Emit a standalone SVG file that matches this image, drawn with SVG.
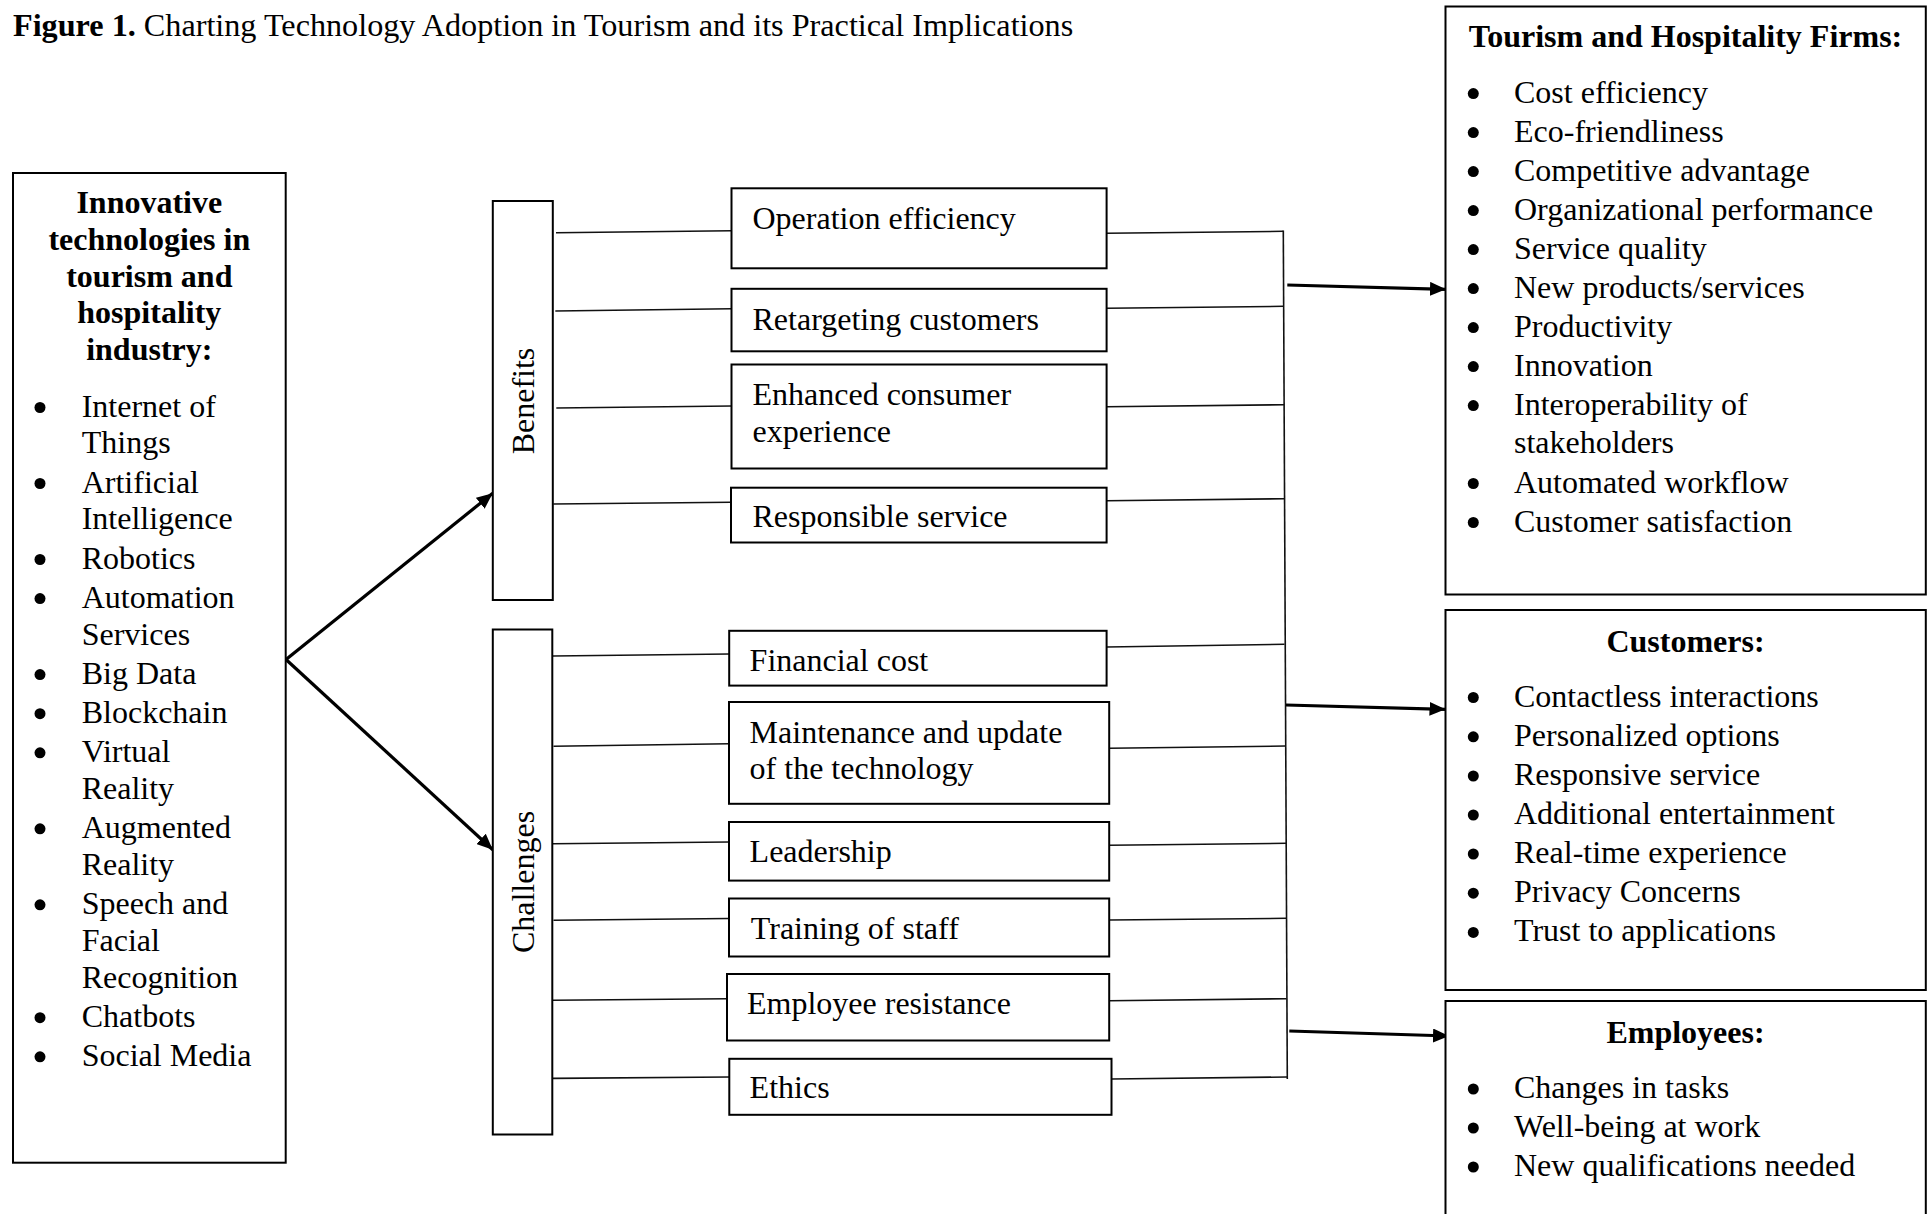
<svg xmlns="http://www.w3.org/2000/svg" width="1930" height="1214" viewBox="0 0 1930 1214">
<style>
  text { font-family: "Liberation Serif", "Times New Roman", serif; font-size: 32px; fill: #000; }
  .b { font-weight: bold; }
  .c { text-anchor: middle; }
  .box { fill: #fff; stroke: #000; stroke-width: 2; }
  .thin { fill: none; stroke: #111; stroke-width: 1.6; }
  .arrow { fill: none; stroke: #000; stroke-width: 3.2; marker-end: url(#ah); }
  .dot { fill: #000; }
</style>
<defs>
  <marker id="ah" markerUnits="userSpaceOnUse" markerWidth="17" markerHeight="14" refX="16" refY="7" orient="auto">
    <path d="M0,0 L16,7 L0,14 z" fill="#000"/>
  </marker>
</defs>
<rect width="1930" height="1214" fill="#fff"/>

<text x="13" y="36" style="font-size:32.2px"><tspan class="b">Figure 1.</tspan> Charting Technology Adoption in Tourism and its Practical Implications</text>

<g id="connectors">
  <path class="arrow" d="M286,659.5 L492.7,493.3"/>
  <path class="arrow" d="M286,659.5 L492.8,849.7"/>
  <path class="thin" d="M556,232.7 L731.5,230.7"/>
  <path class="thin" d="M555.3,311 L731.5,308.7"/>
  <path class="thin" d="M556.3,408 L731.5,406"/>
  <path class="thin" d="M553.3,504 L731,502.3"/>
  <path class="thin" d="M553,656 L729.2,654"/>
  <path class="thin" d="M553.5,746.3 L729,743.8"/>
  <path class="thin" d="M553,843.8 L729,842"/>
  <path class="thin" d="M553.5,920.2 L729,918.5"/>
  <path class="thin" d="M553,1000.2 L727,998.8"/>
  <path class="thin" d="M553,1078.4 L729.3,1077"/>
  <path class="thin" d="M1106.6,233.3 L1283.3,231.3"/>
  <path class="thin" d="M1106.6,308.3 L1283.6,306.3"/>
  <path class="thin" d="M1106.6,406.7 L1284,404.7"/>
  <path class="thin" d="M1106.6,500.7 L1284.3,498.7"/>
  <path class="thin" d="M1106.6,647 L1284.5,644.3"/>
  <path class="thin" d="M1109.2,748.3 L1285.7,746"/>
  <path class="thin" d="M1109.2,845.3 L1286,843.3"/>
  <path class="thin" d="M1109.2,920 L1286.3,918.3"/>
  <path class="thin" d="M1109.2,1000.7 L1286.6,998.7"/>
  <path class="thin" d="M1111.5,1079 L1287.3,1077"/>
  <path class="thin" d="M1283.3,230.5 L1287.3,1079"/>
  <path class="arrow" d="M1287.3,285 L1446,289.3"/>
  <path class="arrow" d="M1286,705 L1445.5,709.3"/>
  <path class="arrow" d="M1289.3,1031 L1449,1036"/>
</g>

<g id="technologies">
  <rect class="box" x="13" y="173" width="272.7" height="989.7"/>
  <text class="b c" x="149.3" y="213.3">Innovative</text>
  <text class="b c" x="149.3" y="250">technologies in</text>
  <text class="b c" x="149.3" y="286.7">tourism and</text>
  <text class="b c" x="149.3" y="323.3">hospitality</text>
  <text class="b c" x="149.3" y="360">industry:</text>
  <circle class="dot" cx="40" cy="407.5" r="5.5"/>
  <text x="81.7" y="416.5">Internet of</text>
  <text x="81.7" y="453.4">Things</text>
  <circle class="dot" cx="40" cy="483.5" r="5.5"/>
  <text x="81.7" y="492.5">Artificial</text>
  <text x="81.7" y="529.4">Intelligence</text>
  <circle class="dot" cx="40" cy="559.5" r="5.5"/>
  <text x="81.7" y="568.5">Robotics</text>
  <circle class="dot" cx="40" cy="598.6" r="5.5"/>
  <text x="81.7" y="607.6">Automation</text>
  <text x="81.7" y="644.5">Services</text>
  <circle class="dot" cx="40" cy="674.6" r="5.5"/>
  <text x="81.7" y="683.6">Big Data</text>
  <circle class="dot" cx="40" cy="713.7" r="5.5"/>
  <text x="81.7" y="722.7">Blockchain</text>
  <circle class="dot" cx="40" cy="752.8" r="5.5"/>
  <text x="81.7" y="761.8">Virtual</text>
  <text x="81.7" y="798.7">Reality</text>
  <circle class="dot" cx="40" cy="828.8" r="5.5"/>
  <text x="81.7" y="837.8">Augmented</text>
  <text x="81.7" y="874.7">Reality</text>
  <circle class="dot" cx="40" cy="904.8" r="5.5"/>
  <text x="81.7" y="913.8">Speech and</text>
  <text x="81.7" y="950.7">Facial</text>
  <text x="81.7" y="987.6">Recognition</text>
  <circle class="dot" cx="40" cy="1017.7" r="5.5"/>
  <text x="81.7" y="1026.7">Chatbots</text>
  <circle class="dot" cx="40" cy="1056.8" r="5.5"/>
  <text x="81.7" y="1065.8">Social Media</text>
</g>

<g id="benefits">
  <rect class="box" x="492.8" y="201" width="60" height="399"/>
  <text class="c" transform="translate(534,401) rotate(-90)">Benefits</text>
</g>
<g id="challenges">
  <rect class="box" x="492.8" y="629.5" width="59.5" height="505"/>
  <text class="c" transform="translate(534,882) rotate(-90)">Challenges</text>
</g>

<g id="operation-efficiency">
  <rect class="box" x="731.5" y="188.3" width="375.1" height="80"/>
  <text x="752.5" y="228.5">Operation efficiency</text>
</g>
<g id="retargeting-customers">
  <rect class="box" x="731.5" y="288.8" width="375.1" height="62.5"/>
  <text x="752.5" y="330">Retargeting customers</text>
</g>
<g id="enhanced-consumer-experience">
  <rect class="box" x="731.5" y="364.5" width="375.1" height="104"/>
  <text x="752.5" y="404.8">Enhanced consumer</text>
  <text x="752.5" y="441.5">experience</text>
</g>
<g id="responsible-service">
  <rect class="box" x="731" y="487.7" width="375.6" height="54.8"/>
  <text x="752.5" y="527">Responsible service</text>
</g>
<g id="financial-cost">
  <rect class="box" x="729.2" y="630.8" width="377.4" height="54.8"/>
  <text x="749.6" y="670.5">Financial cost</text>
</g>
<g id="maintenance">
  <rect class="box" x="729" y="702" width="380.2" height="101.8"/>
  <text x="749.6" y="742.5">Maintenance and update</text>
  <text x="749.6" y="779.3">of the technology</text>
</g>
<g id="leadership">
  <rect class="box" x="729" y="822" width="380.2" height="58.6"/>
  <text x="749.6" y="861.5">Leadership</text>
</g>
<g id="training-of-staff">
  <rect class="box" x="729" y="898.5" width="380.2" height="58"/>
  <text x="750.8" y="938.5">Training of staff</text>
</g>
<g id="employee-resistance">
  <rect class="box" x="727" y="974" width="382.2" height="66.5"/>
  <text x="747" y="1014">Employee resistance</text>
</g>
<g id="ethics">
  <rect class="box" x="729.3" y="1058.8" width="382.2" height="56"/>
  <text x="749.6" y="1098.3">Ethics</text>
</g>

<g id="firms">
  <rect class="box" x="1445.5" y="6.5" width="480.3" height="588"/>
  <text class="b c" x="1685.5" y="46.7">Tourism and Hospitality Firms:</text>
  <circle class="dot" cx="1473.3" cy="93.6" r="5.5"/>
  <text x="1514" y="102.6">Cost efficiency</text>
  <circle class="dot" cx="1473.3" cy="132.6" r="5.5"/>
  <text x="1514" y="141.6">Eco-friendliness</text>
  <circle class="dot" cx="1473.3" cy="171.6" r="5.5"/>
  <text x="1514" y="180.6">Competitive advantage</text>
  <circle class="dot" cx="1473.3" cy="210.6" r="5.5"/>
  <text x="1514" y="219.6">Organizational performance</text>
  <circle class="dot" cx="1473.3" cy="249.6" r="5.5"/>
  <text x="1514" y="258.6">Service quality</text>
  <circle class="dot" cx="1473.3" cy="288.6" r="5.5"/>
  <text x="1514" y="297.6">New products/services</text>
  <circle class="dot" cx="1473.3" cy="327.6" r="5.5"/>
  <text x="1514" y="336.6">Productivity</text>
  <circle class="dot" cx="1473.3" cy="366.6" r="5.5"/>
  <text x="1514" y="375.6">Innovation</text>
  <circle class="dot" cx="1473.3" cy="405.6" r="5.5"/>
  <text x="1514" y="414.6">Interoperability of</text>
  <text x="1514" y="453">stakeholders</text>
  <circle class="dot" cx="1473.3" cy="483.5" r="5.5"/>
  <text x="1514" y="492.5">Automated workflow</text>
  <circle class="dot" cx="1473.3" cy="522.5" r="5.5"/>
  <text x="1514" y="531.5">Customer satisfaction</text>
</g>

<g id="customers">
  <rect class="box" x="1445.5" y="610" width="480.3" height="380"/>
  <text class="b c" x="1685.5" y="651.7">Customers:</text>
  <circle class="dot" cx="1473.3" cy="697.5" r="5.5"/>
  <text x="1514" y="706.5">Contactless interactions</text>
  <circle class="dot" cx="1473.3" cy="736.8" r="5.5"/>
  <text x="1514" y="745.8">Personalized options</text>
  <circle class="dot" cx="1473.3" cy="776" r="5.5"/>
  <text x="1514" y="785">Responsive service</text>
  <circle class="dot" cx="1473.3" cy="815" r="5.5"/>
  <text x="1514" y="824">Additional entertainment</text>
  <circle class="dot" cx="1473.3" cy="854" r="5.5"/>
  <text x="1514" y="863">Real-time experience</text>
  <circle class="dot" cx="1473.3" cy="893.2" r="5.5"/>
  <text x="1514" y="902.2">Privacy Concerns</text>
  <circle class="dot" cx="1473.3" cy="932.4" r="5.5"/>
  <text x="1514" y="941.4">Trust to applications</text>
</g>

<g id="employees">
  <rect class="box" x="1445.5" y="1001" width="480.3" height="250"/>
  <text class="b c" x="1685.5" y="1042.8">Employees:</text>
  <circle class="dot" cx="1473.3" cy="1089" r="5.5"/>
  <text x="1514" y="1098">Changes in tasks</text>
  <circle class="dot" cx="1473.3" cy="1128" r="5.5"/>
  <text x="1514" y="1137">Well-being at work</text>
  <circle class="dot" cx="1473.3" cy="1167" r="5.5"/>
  <text x="1514" y="1176">New qualifications needed</text>
</g>
</svg>
